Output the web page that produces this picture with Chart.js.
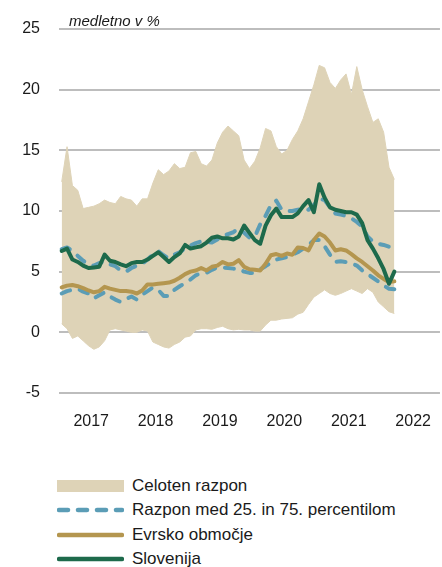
<!DOCTYPE html>
<html lang="sl">
  <head>
    <meta charset="utf-8" />
    <title>Medletno v %</title>
    <script src="https://cdn.jsdelivr.net/npm/chart.js@4.4.1/dist/chart.umd.min.js"></script>
    <style>
      * {
        margin: 0;
        padding: 0;
        box-sizing: border-box;
      }
      body {
        width: 442px;
        height: 567px;
        background: #fff;
        overflow: hidden;
        font-family: "Liberation Sans", Arial, sans-serif;
        color: #1a1a1a;
      }
      .wrapper {
        position: relative;
        width: 442px;
        height: 567px;
      }
      .chart-box {
        position: absolute;
        left: 0;
        top: 0;
        width: 442px;
        height: 430px;
      }
      .legend {
        position: absolute;
        left: 57px;
        top: 474px;
      }
      .legend-item {
        display: flex;
        align-items: center;
        height: 24.3px;
        font-size: 17px;
        white-space: nowrap;
      }
      .legend-item svg {
        width: 67px;
        margin-right: 8px;
        flex: none;
      }
    </style>
  </head>
  <body>
    <div class="wrapper">
      <div class="chart-box">
        <canvas id="chart"></canvas>
      </div>
      <div class="legend">
        <div class="legend-item">
          <svg height="12"><rect x="0" y="0" width="67" height="12" fill="#ded3b7" /></svg>
          <span>Celoten razpon</span>
        </div>
        <div class="legend-item">
          <svg height="6"><line x1="2" y1="3" x2="65" y2="3" stroke="#5b9db6" stroke-width="4.5" stroke-dasharray="9 10" stroke-linecap="round" /></svg>
          <span>Razpon med 25. in 75. percentilom</span>
        </div>
        <div class="legend-item">
          <svg height="6"><line x1="2" y1="3" x2="65" y2="3" stroke="#b4964f" stroke-width="4.5" stroke-linecap="round" /></svg>
          <span>Evrsko območje</span>
        </div>
        <div class="legend-item">
          <svg height="6"><line x1="2" y1="3" x2="65" y2="3" stroke="#1d6a4b" stroke-width="4.5" stroke-linecap="round" /></svg>
          <span>Slovenija</span>
        </div>
      </div>
    </div>

    <script>
      // letne oznake na osi x (sredina leta)
      const yearLabels = ["2017", "2018", "2019", "2020", "2021", "2022"];

      // celoten razpon (max / min)
      const fullMax = [
        12.4, 15.3, 12.1, 11.7, 10.2, 10.3, 10.4, 10.6, 10.9, 10.7,
        10.6, 11.2, 11.0, 10.9, 10.4, 11.0, 11.0, 12.3, 13.4, 13.0,
        13.3, 13.9, 13.5, 13.6, 14.8, 14.9, 13.9, 13.7, 14.2, 15.6,
        16.5, 17.0, 16.6, 16.2, 14.2, 13.5, 14.1, 15.2, 16.8, 16.6,
        15.3, 14.7, 15.0, 15.9, 16.6, 17.6, 19.0, 20.4, 22.0, 21.8,
        20.6, 20.1, 20.8, 21.3, 19.6, 21.9, 20.0, 18.6, 17.3, 17.6,
        16.5, 13.6, 12.6
      ];
      const fullMin = [
        0.7, 0.3, -0.5, -0.3, -0.7, -1.1, -1.4, -1.2, -0.7, 0.2,
        0.3, 0.2, 0.1, 0.0, 0.0, 0.2, 0.1, -0.8, -1.0, -1.2,
        -1.3, -1.0, -0.8, -0.4, -0.3, 0.2, 0.3, 0.3, 0.25, 0.4,
        0.5, 0.3, 0.2, 0.25, 0.2, 0.2, 0.1, 0.1, 0.6, 1.0,
        1.0, 1.1, 1.15, 1.2, 1.5, 1.65, 2.3, 2.9, 3.2, 3.5,
        3.2, 3.05, 3.2, 3.4, 3.6, 3.4, 3.2, 3.6, 3.3, 2.5,
        2.1, 1.7, 1.55
      ];

      // 75. in 25. percentil
      const p75 = [
        6.85, 7.0, 6.7, 6.3, 5.9, 5.6, 5.5, 5.7, 5.85, 5.6,
        5.45, 5.1, 5.0, 5.3, 5.5, 5.65, 6.0, 6.4, 6.7, 6.35,
        6.1, 6.4, 6.6, 6.9, 7.15, 7.35, 7.5, 7.45, 7.4, 7.65,
        7.9, 8.1, 8.25, 8.6, 8.2, 7.8, 7.9, 8.9, 9.6, 10.5,
        10.85, 10.1, 10.0, 10.0, 10.1, 10.2, 10.1, 10.5, 11.0, 10.9,
        10.3, 9.8, 9.7, 9.6, 9.4, 9.1, 8.7, 7.9, 7.5, 7.3,
        7.2, 7.05, 6.9
      ];
      const p25 = [
        3.2, 3.4, 3.5, 3.6, 3.35, 3.2, 2.8, 3.05, 3.3, 2.95,
        2.7, 2.5, 2.75, 2.95, 2.7, 3.1, 3.4, 3.7, 3.5, 3.0,
        3.0, 3.5, 3.8, 4.05, 4.35, 4.7, 4.9, 4.9, 5.15, 5.35,
        5.35, 5.3, 5.25, 5.25, 5.0, 4.9, 4.9, 5.2, 5.45, 5.75,
        6.0, 6.1, 6.2, 6.4, 6.6, 6.9, 7.2, 7.6, 7.6, 7.1,
        6.4, 5.8, 5.85, 5.8, 5.7, 5.5, 5.1, 4.8, 4.5, 4.2,
        3.85, 3.6, 3.55
      ];

      const euroArea = [
        3.7, 3.85, 3.9, 3.8, 3.65, 3.45, 3.3, 3.4, 3.75, 3.6,
        3.5, 3.4, 3.4, 3.35, 3.2, 3.45, 3.95, 3.95, 4.0, 4.05,
        4.1, 4.25, 4.5, 4.8, 5.0, 5.1, 5.3, 5.1, 5.4, 5.5,
        5.8, 5.6, 5.65, 5.95, 5.4, 5.2, 5.15, 5.1, 5.65, 6.35,
        6.45, 6.3, 6.5, 6.4, 7.0, 6.95, 6.75, 7.6, 8.15, 7.9,
        7.4, 6.75, 6.85, 6.75, 6.45, 6.1, 5.8, 5.45, 5.1, 4.7,
        4.4, 4.15, 4.2
      ];

      const slovenia = [
        6.7, 6.9, 6.0, 5.8, 5.5, 5.3, 5.35, 5.4, 6.4, 5.9,
        5.8, 5.6, 5.45, 5.7, 5.8, 5.8, 6.0, 6.3, 6.6, 6.2,
        5.8, 6.2, 6.5, 7.2, 6.9, 7.0, 7.1, 7.4, 7.8, 7.9,
        7.75, 7.75, 7.65, 7.9, 8.8, 8.2, 7.6, 7.3, 8.8, 9.65,
        10.2, 9.5, 9.5, 9.5, 9.8, 10.4, 10.9, 9.9, 12.2, 11.1,
        10.3, 10.1, 10.0, 9.9, 9.9, 9.7, 9.0, 7.6, 6.9, 6.1,
        5.2, 4.0, 5.0
      ];

      // meseci od januarja 2017
      const months = [];
      for (let i = 0; i < slovenia.length; i++) {
        const y = 2017 + Math.floor(i / 12);
        const m = (i % 12) + 1;
        months.push(y + "-" + String(m).padStart(2, "0"));
      }
      const toPoints = (arr) => arr.map((v, i) => ({ x: months.indexOf(months[i]), y: v }));

      const green = "#1d6a4b";
      const gold = "#b4964f";
      const blue = "#5b9db6";
      const sand = "#ded3b7";
      const font = '"Liberation Sans", Arial, sans-serif';

      // napis "medletno v %" nad grafom
      const unitLabel = {
        id: "unitLabel",
        afterDraw(chart) {
          const { ctx, chartArea } = chart;
          ctx.save();
          ctx.font = "italic 15px " + font;
          ctx.fillStyle = "#1a1a1a";
          ctx.textBaseline = "alphabetic";
          ctx.fillText("medletno v %", chartArea.left + 10, chartArea.top - 3);
          ctx.restore();
        },
      };

      const lineStyle = {
        pointRadius: 0,
        tension: 0,
        borderWidth: 4,
        borderJoinStyle: "round",
        borderCapStyle: "round",
        fill: false,
      };

      new Chart(document.getElementById("chart"), {
        type: "line",
        plugins: [unitLabel],
        data: {
          datasets: [
            { ...lineStyle, label: "Slovenija", data: toPoints(slovenia), borderColor: green, order: 1 },
            { ...lineStyle, label: "Evrsko območje", data: toPoints(euroArea), borderColor: gold, order: 2 },
            { ...lineStyle, label: "75. percentil", data: toPoints(p75), borderColor: blue, borderDash: [9, 10], order: 3 },
            { ...lineStyle, label: "25. percentil", data: toPoints(p25), borderColor: blue, borderDash: [9, 10], order: 3 },
            {
              label: "Celoten razpon",
              data: toPoints(fullMax),
              borderColor: sand,
              borderWidth: 1,
              backgroundColor: sand,
              pointRadius: 0,
              tension: 0,
              fill: 5,
              order: 4,
            },
            {
              label: "min",
              data: toPoints(fullMin),
              borderColor: sand,
              borderWidth: 1,
              pointRadius: 0,
              tension: 0,
              fill: false,
              order: 5,
            },
          ],
        },
        options: {
          responsive: true,
          maintainAspectRatio: false,
          animation: false,
          events: [],
          layout: { padding: { top: 29, right: 1, left: 0, bottom: 0 } },
          plugins: {
            legend: { display: false },
            tooltip: { enabled: false },
          },
          scales: {
            x: {
              type: "linear",
              min: -0.5,
              max: 70.5,
              grid: { display: false },
              border: { display: false },
              afterBuildTicks: (axis) => {
                axis.ticks = yearLabels.map((_, k) => ({ value: 12 * k + 5.5 }));
              },
              afterFit: (axis) => {
                axis.height = 37;
              },
              ticks: {
                autoSkip: false,
                maxRotation: 0,
                padding: 11,
                color: "#1a1a1a",
                font: { family: font, size: 16 },
                callback: (value, index) => yearLabels[index],
              },
            },
            y: {
              min: -5,
              max: 25,
              grid: { color: "#bdbdbd", lineWidth: 2, drawTicks: false },
              border: { display: false },
              afterFit: (axis) => {
                axis.width = 59;
              },
              ticks: {
                stepSize: 5,
                padding: 19,
                color: "#1a1a1a",
                font: { family: font, size: 16 },
              },
            },
          },
        },
      });
    </script>
  </body>
</html>
